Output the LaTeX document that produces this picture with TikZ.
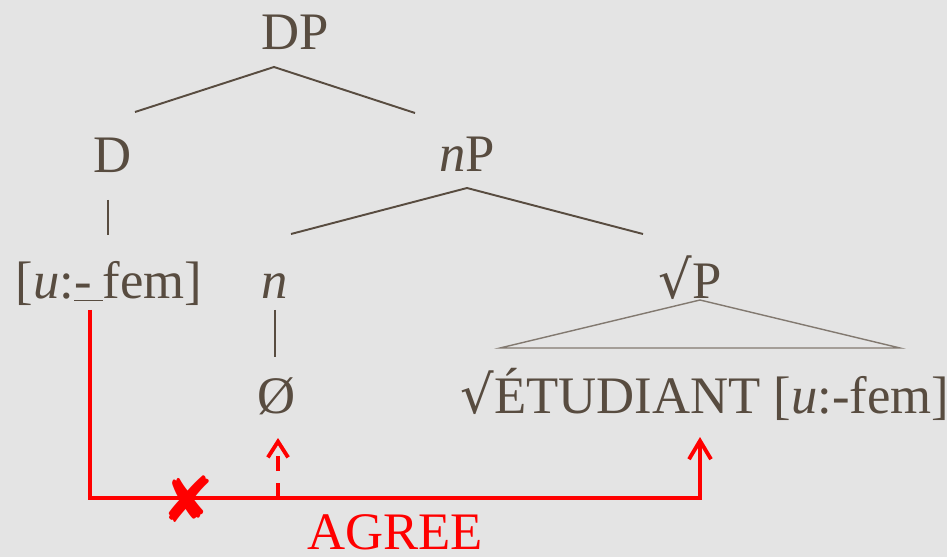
\documentclass[tikz,border=0pt]{standalone}
\usepackage{fontspec}
\setmainfont{Liberation Serif}
\newfontfamily\symfont{DejaVu Serif}
\newfontfamily\markfont{DejaVu Sans}
\usetikzlibrary{arrows.meta}
\definecolor{cbg}{HTML}{E4E4E4}
\definecolor{cink}{HTML}{584C40}
\definecolor{cred}{HTML}{FF0000}
\tikzset{
  lbl/.style={text=cink, anchor=base, inner sep=0pt, font=\fontsize{30}{36}\selectfont},
  branch/.style={draw=cink, line width=1.1pt},
  roof/.style={draw=cink!75, line width=0.8pt},
  agree/.style={draw=cred, line width=2.2pt},
  tip/.style={-{Straight Barb[length=10.5pt, width=12.5pt]}},
}

\begin{document}
\begin{tikzpicture}[x=0.02cm, y=-0.02cm]
  \fill[cbg] (0,0) rectangle (947,557);
  \useasboundingbox (0,0) rectangle (947,557);
  % labels
  \node[lbl] (dp) at (295,50) {DP};
  \node[lbl] (d) at (113,173) {D};
  \node[lbl] (np) at (467,172) {\textit{n}P};
  \node[lbl] (uf) at (109,298) {[\textit{u}:\underline{-\hspace{0.2em}}fem]};
  \node[lbl] (n) at (275,298) {\textit{n}};
  \node[lbl] (rp) at (690,298) {{\symfont √}P};
  \node[lbl] (null) at (277,413) {Ø};
  \node[lbl] (root) at (705,413) {{\symfont √}ÉTUDIANT [\textit{u}:-fem]};
  \node[lbl, text=cred] (agr) at (395,549) {AGREE};
  \node[text=cred, inner sep=0pt, font=\markfont\fontsize{36}{36}\selectfont] (x) at (188,499) {✘};
  % branch points
  \coordinate (dp-a) at (274,67);
  \coordinate (dp-l) at (135,112);
  \coordinate (dp-r) at (415,113);
  \coordinate (np-a) at (467,188);
  \coordinate (np-l) at (291,234);
  \coordinate (np-r) at (643,234);
  \coordinate (rp-a) at (700,300);
  \coordinate (rp-l) at (500,348);
  \coordinate (rp-r) at (900,348);
  \coordinate (d-l) at (108,200);
  \coordinate (n-l) at (275,310);
  % tree
  \draw[branch] (dp-l) -- (dp-a) -- (dp-r);
  \draw[branch] (np-l) -- (np-a) -- (np-r);
  \draw[branch] (d-l) -- ++(0,35);
  \draw[branch] (n-l) -- ++(0,47);
  \draw[roof] (rp-l) -- (rp-a) -- (rp-r) -- cycle;
  % agree
  \coordinate (ag-s) at (90,310);
  \coordinate (ag-e) at (700,498);
  \coordinate (ag-m) at (278,498);
  \coordinate (ag-t) at (700,437);
  \coordinate (ag-u) at (278,438);
  \draw[agree, tip] (ag-s) |- (ag-e) -- (ag-t);
  \draw[agree, -{Straight Barb[length=9pt, width=11.5pt]}, dash pattern=on 8.5pt off 6.8pt] (ag-m) -- (ag-u);
\end{tikzpicture}
\end{document}
